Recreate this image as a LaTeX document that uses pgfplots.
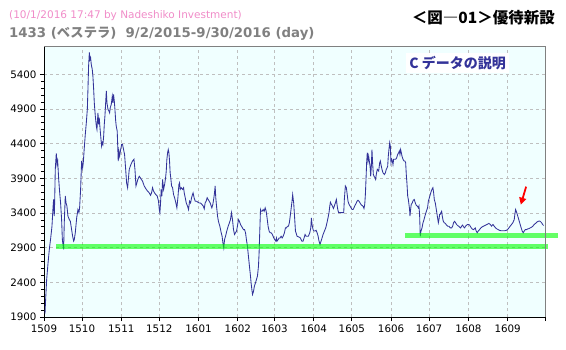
\documentclass[border=0pt]{standalone}
\usepackage{fontspec}
\setmainfont{DejaVu Sans}
\newfontfamily\cjk{Noto Sans CJK JP}
\usepackage{pgfplots}
\pgfplotsset{compat=1.18}
\usepackage{pgfplotstable}
\usetikzlibrary{arrows.meta}
\definecolor{bgc}{RGB}{240,255,255}
\definecolor{lineblue}{RGB}{51,51,153}
\definecolor{pinkt}{RGB}{240,140,200}
\definecolor{grayt}{RGB}{128,128,128}
\definecolor{gbar}{RGB}{0,255,0}

\pgfplotstableread{
d v
0.8 1950
1.1 2080
2.1 2440
3.2 2680
4.2 2875
5.3 3040
6.3 3210
7.1 3475
7.6 3595
8.1 3355
8.4 3545
8.9 4030
9.7 4260
10.3 4100
10.8 4150
11.6 3885
12.4 3690
13.1 3545
13.9 3305
14.5 3015
15.0 2945
15.5 2875
16.0 3260
16.8 3645
17.4 3545
18.1 3500
18.9 3355
20.0 3305
20.8 3280
21.6 3185
22.6 3065
23.4 2995
23.9 3015
24.7 3115
25.8 3330
26.8 3450
27.6 3405
28.1 3475
28.9 3740
29.7 4150
30.5 4050
31.0 4125
31.8 4340
32.6 4535
33.4 4700
34.2 4895
34.7 5185
35.2 5520
35.8 5715
36.3 5615
36.8 5640
37.3 5545
38.1 5470
38.6 5375
39.2 5185
39.7 4990
40.5 4800
41.3 4655
41.8 4605
42.6 4845
43.1 4680
43.6 4775
44.2 4630
45.0 4460
45.5 4365
46.0 4415
46.5 4390
47.1 4510
47.6 4680
48.1 4800
48.6 4965
49.2 5160
49.7 4990
50.5 4895
51.3 4870
51.8 4845
52.3 4920
53.1 4965
53.9 5085
54.4 4990
54.9 5110
55.5 5015
56.0 4895
56.5 4750
57.0 4655
57.8 4580
58.6 4150
59.1 4295
59.7 4220
60.5 4315
61.3 4390
62.0 4390
62.8 4315
63.6 4245
64.4 4050
65.2 3835
66.0 3765
67.3 4030
68.6 4100
69.9 4150
71.0 4175
71.8 4030
72.6 3790
73.3 3835
74.1 3885
75.2 3930
76.0 3910
76.8 3885
77.8 3860
79.1 3790
80.4 3750
81.8 3715
83.1 3690
84.1 3655
84.9 3690
85.7 3765
86.5 3715
87.3 3690
88.3 3665
89.4 3645
90.4 3570
91.0 3450
91.5 3405
92.0 3545
92.5 3740
93.1 3645
93.6 3885
94.4 3740
95.2 3810
96.0 3910
96.5 4005
97.0 4175
97.6 4270
98.1 4315
98.6 4270
99.1 4150
99.6 3980
100.2 3885
100.7 3790
101.5 3765
102.3 3665
103.1 3620
104.1 3545
104.9 3475
105.7 3620
106.5 3810
107.0 3835
107.5 3740
108.3 3765
109.4 3740
110.2 3765
110.7 3690
111.5 3620
112.3 3545
113.3 3500
114.1 3450
114.9 3570
115.7 3545
116.5 3620
117.2 3665
117.7 3690
118.5 3620
119.4 3570
120.4 3570
121.5 3555
122.5 3545
123.6 3545
124.6 3525
125.7 3500
126.5 3460
127.2 3545
128.0 3570
128.8 3620
129.6 3595
130.4 3570
131.2 3545
132.0 3500
132.5 3475
133.3 3525
134.1 3620
134.6 3690
135.1 3790
135.6 3620
136.2 3500
137.0 3355
137.7 3280
138.8 3210
139.9 3115
140.6 3065
141.4 2945
141.9 2895
142.5 3015
143.3 3065
144.3 3140
145.4 3210
146.4 3260
147.2 3305
148.0 3405
148.8 3305
149.6 3160
150.4 3090
151.2 3115
152.0 3140
152.7 3210
153.5 3305
154.3 3280
155.1 3235
155.9 3210
156.7 3185
157.5 3160
158.3 3160
159.1 3115
159.8 3015
160.6 2920
161.4 2775
162.2 2630
163.0 2490
163.5 2390
164.1 2295
164.6 2225
165.4 2270
166.1 2345
166.9 2390
167.7 2440
168.5 2490
169.3 2630
169.8 2825
170.3 3115
170.9 3450
171.4 3425
172.2 3425
173.0 3450
173.8 3425
174.6 3475
175.4 3425
176.1 3330
176.9 3210
177.7 3140
178.5 3115
179.3 3115
180.3 3090
181.4 3040
182.2 3015
183.0 2995
183.5 3040
184.0 2995
184.8 3015
185.6 3040
186.4 3040
187.2 3065
188.0 3040
188.8 3065
189.8 3115
190.6 3185
191.4 3185
192.2 3210
193.0 3210
193.7 3260
194.2 3330
195.0 3450
195.8 3570
196.3 3665
197.1 3545
197.6 3405
198.5 3140
199.8 3065
201.1 3055
202.4 3040
203.5 2995
204.5 2995
205.3 3040
206.1 3090
206.9 3065
207.7 3065
208.7 3065
209.8 3115
210.6 3185
211.1 3330
211.6 3235
212.4 3160
213.2 3140
214.0 3140
214.8 3150
215.6 3115
216.4 3065
217.1 2995
217.9 2945
218.7 2995
219.5 3040
220.3 3090
221.4 3140
222.4 3185
223.4 3260
224.2 3330
225.0 3405
225.6 3500
226.1 3555
226.9 3525
227.7 3500
228.5 3465
229.2 3500
230.0 3545
230.8 3595
231.3 3525
231.9 3450
232.6 3405
233.4 3405
234.5 3405
235.5 3405
236.6 3405
237.1 3595
237.9 3790
238.7 3765
239.2 3690
240.0 3570
240.8 3525
241.6 3500
242.4 3475
243.2 3450
244.0 3450
244.7 3475
245.5 3510
246.3 3535
247.1 3570
247.9 3585
248.7 3570
249.5 3545
250.2 3525
251.0 3510
251.8 3500
252.6 3465
253.2 3525
253.7 3665
254.2 3885
254.7 4125
255.2 4270
255.8 4150
256.3 4220
256.8 4150
257.4 4075
257.9 3930
258.4 4075
258.9 4315
259.4 4125
260.0 3955
260.5 3930
261.3 3910
261.8 3885
262.3 3955
263.1 4030
264.2 4005
265.0 4125
265.5 4150
266.0 4100
266.8 4030
267.6 3980
268.7 3955
269.5 3980
270.2 4030
270.8 4050
271.3 4075
271.8 4220
272.3 4315
272.9 4415
273.4 4365
273.9 4125
274.5 4175
275.0 4150
275.5 4100
276.0 4175
276.8 4175
277.6 4175
278.4 4195
279.2 4245
280.0 4270
280.5 4295
281.0 4245
281.5 4315
282.1 4270
282.6 4220
283.4 4175
284.2 4150
284.9 4150
285.5 4125
286.0 3955
286.5 3835
287.1 3645
287.6 3595
288.1 3525
288.6 3450
288.9 3355
289.4 3450
289.9 3525
290.7 3545
291.5 3585
292.3 3595
293.1 3545
293.9 3510
294.7 3500
295.5 3475
296.0 3500
296.5 3380
296.8 3210
297.0 3065
297.6 3140
298.4 3185
299.2 3260
300.0 3305
300.7 3355
301.5 3405
302.3 3450
302.8 3475
303.4 3570
304.2 3620
304.9 3665
305.7 3715
306.5 3750
307.0 3765
307.6 3690
308.1 3595
308.9 3545
309.7 3450
310.5 3355
311.3 3260
311.8 3305
312.3 3380
312.8 3380
313.3 3405
313.9 3425
314.4 3355
315.2 3280
316.0 3260
316.8 3250
317.8 3225
318.6 3210
319.7 3210
320.7 3185
321.8 3185
322.6 3210
323.3 3260
324.1 3280
324.9 3260
325.7 3235
326.5 3220
327.3 3210
328.1 3195
328.9 3185
329.7 3210
330.5 3225
331.2 3200
332.0 3185
332.8 3210
333.6 3225
334.4 3235
335.2 3235
336.0 3225
336.5 3210
337.3 3185
338.1 3170
338.9 3160
339.7 3170
340.4 3185
341.2 3140
342.0 3115
342.8 3140
343.8 3160
344.9 3185
345.9 3200
347.0 3210
348.0 3220
349.1 3230
350.2 3240
351.2 3250
352.3 3235
353.3 3210
354.4 3235
355.4 3210
356.5 3185
357.5 3170
358.6 3160
359.6 3150
360.7 3145
361.7 3145
362.8 3145
363.8 3145
364.9 3150
365.9 3160
367.0 3185
368.0 3210
369.1 3235
370.1 3260
371.2 3305
371.7 3380
372.3 3450
372.8 3425
373.6 3380
374.4 3330
375.2 3280
375.9 3235
376.7 3185
377.5 3140
378.3 3115
379.1 3140
379.9 3160
380.7 3160
381.8 3170
382.8 3175
383.8 3185
384.9 3195
385.9 3210
387.0 3235
388.0 3250
389.1 3270
390.1 3280
391.2 3285
392.0 3275
392.8 3260
393.6 3235
394.4 3220
}\pricedata

\begin{document}
\begin{tikzpicture}
\useasboundingbox (0,0) rectangle (566pt,349pt);
\begin{axis}[
  at={(44pt,32pt)}, anchor=south west,
  scale only axis, width=501pt, height=271pt,
  xmin=0, xmax=395.5, ymin=1900, ymax=5809,
  axis x line*=bottom, axis y line*=left,
  axis line style={black, line width=1pt, -},
  xtick={0,30,61,91,122,153,182,213,243,274,304,335,366},
  xticklabels={1509,1510,1511,1512,1601,1602,1603,1604,1605,1606,1607,1608,1609},
  extra x ticks={395.5}, extra x tick labels={}, extra x tick style={grid=none},
  ytick={1900,2400,2900,3400,3900,4400,4900,5400},
  minor y tick num=4,
  tick align=outside,
  major tick length=4pt, minor tick length=3pt,
  tick style={black, line width=0.8pt},
  grid=major,
  major grid style={dash pattern=on 3pt off 3pt, color=black!25, line width=0.8pt},
  axis background/.style={fill=bgc},
  ticklabel style={font=\fontsize{10.3}{12}\selectfont, black},
  /pgf/number format/assume math mode=true,
  /pgf/number format/1000 sep={},
  clip=false,
]
\addplot[lineblue, line width=0.85pt] table[x=d, y=v] {\pricedata};
\addplot[gbar, opacity=0.6, line width=4.5pt] coordinates {(9.5,2914) (398,2914)};
\addplot[gbar, opacity=0.6, line width=4.5pt] coordinates {(285,3072) (406,3072)};
\draw[red, line width=1.8pt, -{Triangle[length=7pt,width=7pt]}] (axis cs:380.6,3780) -- (axis cs:376.4,3520);
\draw[black!50, line width=1pt] (rel axis cs:0,1) -- (rel axis cs:1,1) -- (rel axis cs:1,0);
\node[fill=white, inner sep=3pt, text=lineblue, font=\cjk\bfseries\fontsize{14}{16}\selectfont] at (axis cs:326.5,5564) {C データの説明};
\end{axis}
\node[anchor=west, text=pinkt, font=\fontsize{10.5}{12}\selectfont, inner sep=0pt] at (9pt,333pt) {(10/1/2016 17:47 by Nadeshiko Investment)};
\node[anchor=west, text=grayt, font=\bfseries\fontsize{13.3}{15}\selectfont, inner sep=0pt] at (9pt,315pt) {1433 ({\cjk\bfseries ベステラ})\ \ 9/2/2015-9/30/2016 (day)};
\node[anchor=east, text=black, font=\cjk\bfseries\fontsize{15.5}{17}\selectfont, inner sep=0pt] at (555pt,331pt) {＜図―01＞優待新設};
\end{tikzpicture}
\end{document}
